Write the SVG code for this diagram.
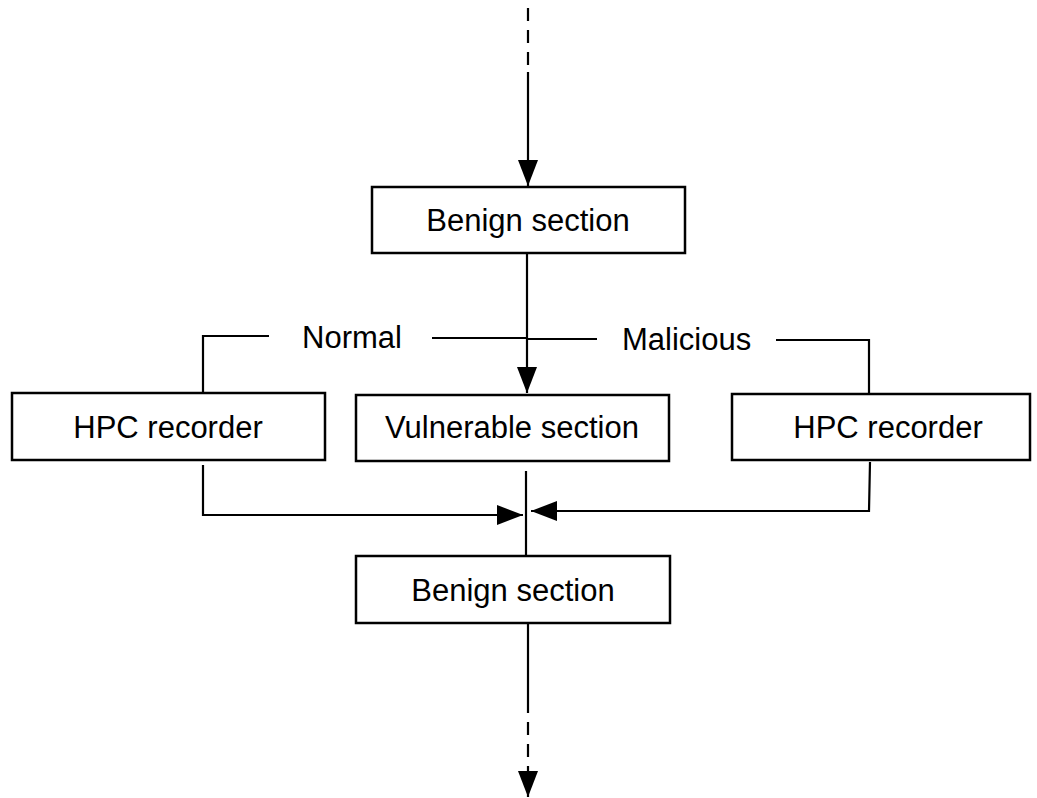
<svg xmlns="http://www.w3.org/2000/svg" width="1037" height="798" viewBox="0 0 1037 798">
  <style>
    .box { fill: #ffffff; stroke: #000000; stroke-width: 2.5; }
    .lbl { font-family: "Liberation Sans", Arial, Helvetica, sans-serif; font-size: 31px; fill: #000000; }
    .mid { text-anchor: middle; }
    .wire { fill: none; stroke: #000000; stroke-width: 2.2; }
    .dash { stroke-dasharray: 13 9; }
  </style>
  <defs>
    <marker id="head" markerUnits="userSpaceOnUse" markerWidth="26" markerHeight="20" refX="26" refY="10" orient="auto">
      <path d="M0,0 L26,10 L0,20 Z" fill="#000000"/>
    </marker>
  </defs>
  <rect width="1037" height="798" fill="#ffffff"/>

  <!-- connectors -->
  <g id="connectors">
    <!-- entry from above -->
    <line class="wire dash" x1="528" y1="8" x2="528" y2="72"/>
    <line class="wire" x1="528" y1="72" x2="528" y2="186" marker-end="url(#head)"/>
    <!-- benign section into vulnerable section -->
    <line class="wire" x1="527" y1="253" x2="527" y2="393" marker-end="url(#head)"/>
    <!-- "Normal" branch to left recorder -->
    <polyline class="wire" points="203,393 203,336 269,336"/>
    <line class="wire" x1="432" y1="338" x2="527" y2="338"/>
    <!-- "Malicious" branch to right recorder -->
    <line class="wire" x1="527" y1="339" x2="597" y2="339"/>
    <polyline class="wire" points="776,340 869,340 869,394"/>
    <!-- recorder outputs merging -->
    <polyline class="wire" points="203,465 203,515 523,515" marker-end="url(#head)"/>
    <polyline class="wire" points="870,462 869,511 531,511" marker-end="url(#head)"/>
    <!-- vulnerable section to next benign section -->
    <line class="wire" x1="526" y1="471" x2="526" y2="556"/>
    <!-- exit downwards -->
    <line class="wire" x1="528" y1="623" x2="528" y2="700"/>
    <line class="wire dash" x1="528" y1="700" x2="528" y2="773"/>
    <line class="wire" x1="528" y1="771" x2="528" y2="797" marker-end="url(#head)"/>
  </g>

  <!-- branch labels -->
  <text class="lbl" x="302" y="348">Normal</text>
  <text class="lbl" x="622" y="350">Malicious</text>

  <g id="benign-top">
    <rect class="box" x="372" y="187" width="313" height="66"/>
    <text class="lbl mid" x="528" y="231">Benign section</text>
  </g>

  <g id="hpc-left">
    <rect class="box" x="12" y="393" width="313" height="67"/>
    <text class="lbl mid" x="168" y="438">HPC recorder</text>
  </g>

  <g id="vulnerable">
    <rect class="box" x="356" y="395" width="313" height="66"/>
    <text class="lbl mid" x="512" y="438">Vulnerable section</text>
  </g>

  <g id="hpc-right">
    <rect class="box" x="732" y="394" width="298" height="66"/>
    <text class="lbl mid" x="888" y="438">HPC recorder</text>
  </g>

  <g id="benign-bottom">
    <rect class="box" x="356" y="556" width="314" height="67"/>
    <text class="lbl mid" x="513" y="601">Benign section</text>
  </g>
</svg>
